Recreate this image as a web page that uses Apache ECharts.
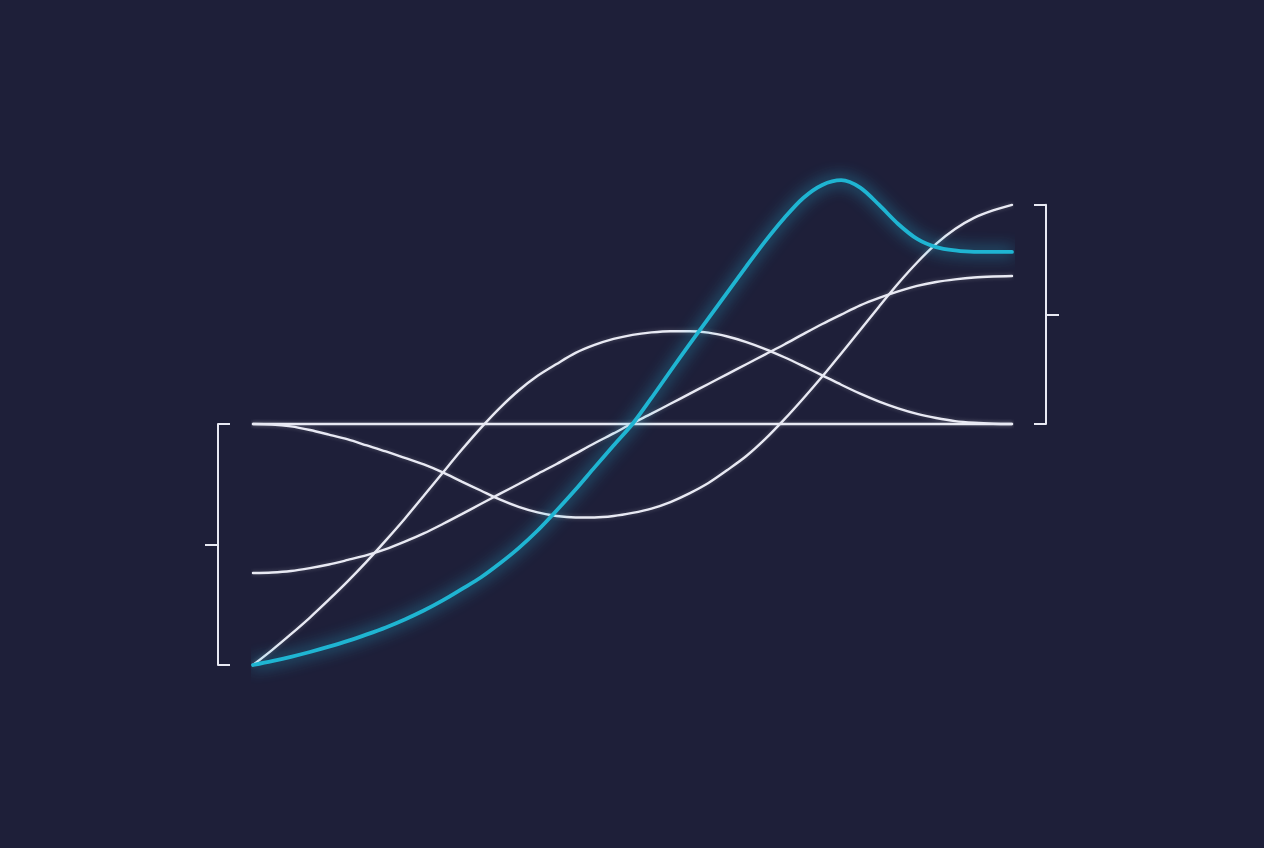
<!DOCTYPE html>
<html>
<head>
<meta charset="utf-8">
<style>
html,body{margin:0;padding:0;background:#1e1f39;}
#c{width:1264px;height:848px;}
</style>
<script src="https://cdn.jsdelivr.net/npm/echarts@6/dist/echarts.min.js"></script>
</head>
<body>
<div id="c"></div>
<script>
// shared x positions (0..100, step 2.5)
const xs = [0,2.5,5,7.5,10,12.5,15,17.5,20,22.5,25,27.5,30,32.5,35,37.5,40,42.5,45,47.5,50,
            52.5,55,57.5,60,62.5,65,67.5,70,72.5,75,77.5,80,82.5,85,87.5,90,92.5,95,97.5,100];
// series values
const flatLine = [100,100,100,100,100,100,100,100,100,100,100,100,100,100,100,100,100,100,100,100,100,
                  100,100,100,100,100,100,100,100,100,100,100,100,100,100,100,100,100,100,100,100];
const dipRise  = [100,99.8,99.0,97.5,95.6,93.6,91.1,88.6,85.9,83.2,79.9,76.1,72.4,68.7,65.6,63.3,61.8,61.2,61.2,61.8,63.1,
                  64.9,67.6,71.2,75.5,80.9,86.7,93.8,101.9,110.6,119.7,129.3,139.0,148.8,158.3,167.0,174.7,180.9,185.5,188.6,190.9];
const bell     = [0,6.2,12.8,19.7,27.1,34.8,43.0,51.7,60.7,70.2,79.8,89.3,98.3,106.6,113.9,120.0,124.9,129.5,132.8,135.3,137.0,
                  138.0,138.5,138.5,137.9,136.3,134.0,131.1,127.7,124.0,120.2,116.3,112.6,109.3,106.5,104.2,102.5,101.2,100.5,100.1,100];
const sigmoid  = [38.2,38.4,39.0,40.2,41.7,43.6,45.6,48.1,51.2,54.6,58.5,62.6,66.8,71.0,75.1,79.3,83.4,87.7,92.0,96.1,100.3,
                  104.3,108.4,112.5,116.6,120.7,124.8,128.9,133.0,137.3,141.5,145.4,149.2,152.3,155.0,157.3,158.9,160.0,160.8,161.2,161.4];
const highlight= [0,1.6,3.4,5.4,7.6,10.0,12.7,15.6,18.9,22.6,26.8,31.5,36.3,42.1,48.5,55.8,64.1,72.8,82.0,91.1,100,
                  110.8,122.0,133.0,143.8,154.6,165.4,175.9,185.5,193.8,199.2,201.2,198.1,190.9,183.0,176.8,173.4,172.0,171.4,171.4,171.4];
// bracket ranges (in value units)
const leftBracket = [0,100];
const rightBracket = [100,191];

const W = 1264, H = 848;
const GRID_TOP = 62.5, GRID_BOTTOM = 183, Y_MAX = 250;
function py(v){ return GRID_TOP + (1 - v / Y_MAX) * (H - GRID_TOP - GRID_BOTTOM); }

const WHITE = '#e8e9f3';
const CYAN = '#1fb5d2';

function pairs(ys){ return xs.map((x,i)=>[x, ys[i]]); }

function whiteSeries(ys){
  return {
    type:'line', data:pairs(ys), smooth:0.3, showSymbol:false, symbol:'none',
    clip:false, xAxisIndex:0, yAxisIndex:0,
    lineStyle:{color:WHITE, width:2.4, cap:'round', shadowBlur:4, shadowColor:'rgba(255,255,255,0.25)'},
    z:2, silent:true
  };
}

const common = { type:'value', position:'left', axisLabel:{show:false}, splitLine:{show:false} };
// each bracket: one grid for the spine + end ticks, one for the middle tick
function bracketGrids(leftEdge, range){
  const g = {left:leftEdge, width:20, top:py(range[1]), bottom:H - py(range[0])};
  return [g, Object.assign({}, g)];
}
function bracketAxes(g0, range, endsInside){
  const mid = (range[0]+range[1])/2;
  return [
    Object.assign({}, common, {
      gridIndex:g0, min:range[0], max:range[1],
      axisLine:{show:true, lineStyle:{color:WHITE, width:2}},
      axisTick:{show:true, inside:endsInside, length:12, customValues:[range[0], range[1]], lineStyle:{color:WHITE, width:2}}
    }),
    Object.assign({}, common, {
      gridIndex:g0+1, min:range[0], max:range[1],
      axisLine:{show:false},
      axisTick:{show:true, inside:!endsInside, length:13, customValues:[mid], lineStyle:{color:WHITE, width:2}}
    })
  ];
}

const chart = echarts.init(document.getElementById('c'), null, {renderer:'canvas'});
const lg = bracketGrids(218, leftBracket);
const rg = bracketGrids(1046, rightBracket);
const la = bracketAxes(1, leftBracket, true);
const ra = bracketAxes(3, rightBracket, false);

chart.setOption({
  backgroundColor:'#1e1f39',
  animation:false,
  grid:[
    {left:253, right:W - 1012, top:GRID_TOP, bottom:GRID_BOTTOM},
    lg[0], lg[1], rg[0], rg[1]
  ],
  xAxis:[0,1,2,3,4].map(i => ({type:'value', gridIndex:i, min:0, max:i===0?100:1, show:false})),
  yAxis:[
    {type:'value', gridIndex:0, min:0, max:Y_MAX, show:false},
    la[0], la[1], ra[0], ra[1]
  ],
  series:[
    whiteSeries(flatLine),
    whiteSeries(dipRise),
    whiteSeries(bell),
    whiteSeries(sigmoid),
    {
      type:'line', data:pairs(highlight), smooth:0.3, showSymbol:false, symbol:'none',
      clip:false, xAxisIndex:0, yAxisIndex:0, z:5, silent:true,
      lineStyle:{color:CYAN, width:3.8, cap:'round', shadowBlur:16, shadowColor:'rgba(40,200,235,0.9)'}
    }
  ]
});
</script>
</body>
</html>
